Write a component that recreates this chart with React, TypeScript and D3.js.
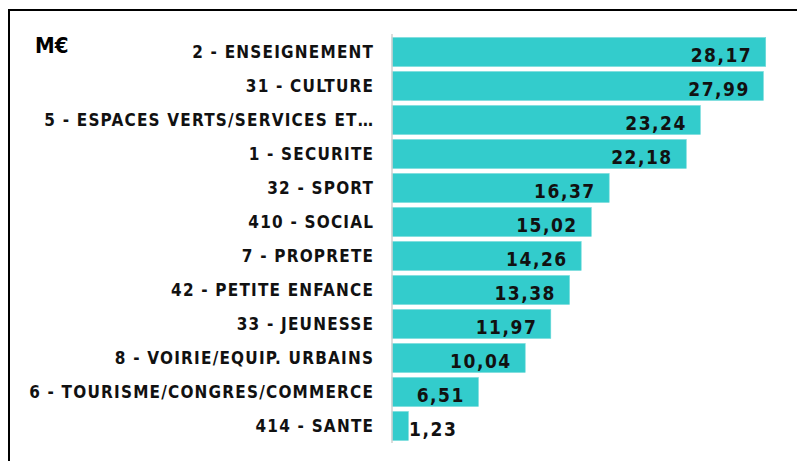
import React from "react";
import * as d3 from "d3";

const categories = [
  "2 - ENSEIGNEMENT",
  "31 - CULTURE",
  "5 - ESPACES VERTS/SERVICES ET…",
  "1 - SECURITE",
  "32 - SPORT",
  "410 - SOCIAL",
  "7 - PROPRETE",
  "42 - PETITE ENFANCE",
  "33 - JEUNESSE",
  "8 - VOIRIE/EQUIP. URBAINS",
  "6 - TOURISME/CONGRES/COMMERCE",
  "414 - SANTE",
];
const values = [28.17, 27.99, 23.24, 22.18, 16.37, 15.02, 14.26, 13.38, 11.97, 10.04, 6.51, 1.23];
const unitLabel = "M€";

const W = 797;
const H = 461;
const FONT = "'DejaVu Sans', sans-serif";

export default function App() {
  const y = d3.scaleBand<string>().domain(categories).range([32.45, 445.55]).padding(0.15);
  const x = d3.scaleLinear().domain([0, 30]).range([392, 790]);
  const fmt = (v: number) => v.toFixed(2).replace(".", ",");
  const valueW = 12.2;
  return (
    <svg width={W} height={H} style={{ position: "absolute", left: 0, top: 0, background: "#fff" }}>
      <line x1={9} y1={10} x2={9} y2={H} stroke="#000" strokeWidth={2} />
      <line x1={8} y1={10} x2={W} y2={10} stroke="#000" strokeWidth={2} />
      <text x={35} y={53} fontFamily={FONT} fontWeight="bold" fontSize={22} fill="#000" style={{ fontStretch: "condensed" }}>
        {unitLabel}
      </text>
      {categories.map((c, i) => {
        const yy = y(c)!;
        const bw = y.bandwidth();
        const x1 = x(values[i]);
        const lbl = fmt(values[i]);
        const tw = lbl.length * valueW;
        const tx = Math.max(x1 - 15, x(0) + 15 + tw);
        return (
          <g key={c}>
            <rect x={x(0)} y={yy} width={x1 - x(0)} height={bw} fill="#33CCCC" stroke="#6fd9d9" strokeWidth={0.6} />
            <text x={374.2} y={yy + bw / 2} dy="0.36em" textAnchor="end" fontFamily={FONT} fontWeight="bold" fontSize={17} letterSpacing={1.2} fill="#111" style={{ fontStretch: "condensed" }}>
              {c}
            </text>
            <text x={tx + 1.5} y={yy + bw / 2} dy="0.5em" textAnchor="end" fontFamily={FONT} fontWeight="bold" fontSize={19} letterSpacing={1.5} fill="#111" style={{ fontStretch: "condensed" }}>
              {lbl}
            </text>
          </g>
        );
      })}
      <line x1={x(0)} x2={x(0)} y1={34} y2={443} stroke="#d0d0d0" strokeWidth={1.5} />
    </svg>
  );
}
